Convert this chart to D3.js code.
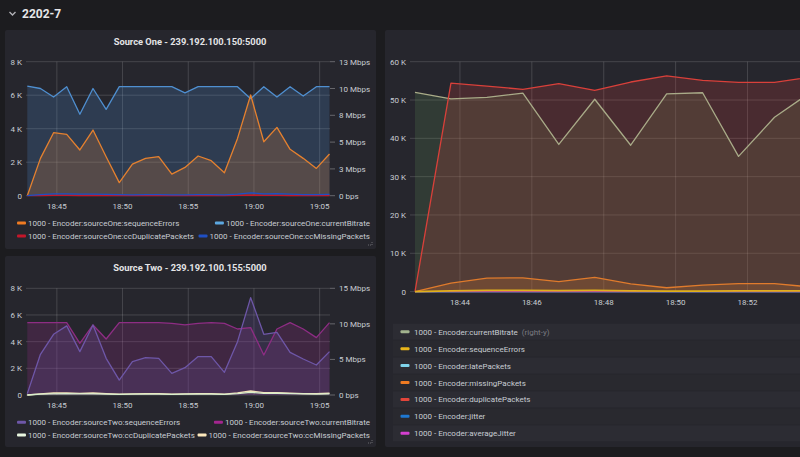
<!DOCTYPE html>
<html>
<head>
<meta charset="utf-8">
<script src="https://cdnjs.cloudflare.com/ajax/libs/d3/7.8.5/d3.min.js"></script>
<style>
  body { margin: 0; background: #1c1c1f; }
  svg { display: block; font-family: Roboto, "Noto Sans", sans-serif; }
</style>
</head>
<body>
<svg id="chart" width="800" height="457"></svg>
<script>
// one sample per minute, starting 18:42:45
const times = d3.range(24).map(i => new Date(2020, 0, 1, 18, 42 + i, 45));

// Source One
const s1SequenceErrors = [0, 2230, 3760, 3660, 2730, 3920, 2330, 780, 1890, 2230, 2330, 1290, 1690, 2370, 2090, 1370, 3420, 6010, 3220, 4080, 2770, 2230, 1630, 2490];
const s1CurrentBitrate = [10.23, 10.0, 9.2, 10.17, 7.6, 10.0, 8.05, 10.17, 10.17, 10.17, 10.17, 10.17, 9.6, 10.17, 10.17, 10.17, 10.17, 9.05, 10.17, 9.2, 10.17, 9.3, 10.17, 10.17]; // Mbps
const s1DuplicatePackets = [0, 10, 20, 20, 10, 20, 10, 10, 10, 10, 10, 10, 10, 10, 10, 10, 20, 30, 20, 20, 10, 10, 10, 10];
const s1MissingPackets = [0, 60, 110, 110, 90, 100, 80, 60, 50, 60, 60, 50, 50, 60, 60, 50, 100, 170, 110, 120, 90, 70, 60, 80];

// Source Two
const s2SequenceErrors = [100, 3050, 4550, 5180, 3250, 5250, 2750, 1120, 2500, 2800, 2750, 1620, 2050, 2880, 2880, 1700, 4000, 7300, 4550, 4700, 3200, 2700, 2250, 3250];
const s2CurrentBitrate = [10.17, 10.17, 10.17, 10.17, 7.27, 9.85, 7.87, 10.17, 10.17, 10.17, 10.17, 10.08, 9.85, 10.08, 10.17, 10.08, 9.28, 9.47, 5.63, 9.28, 10.17, 9.28, 8.06, 10.17]; // Mbps
const s2DuplicatePackets = [0, 60, 90, 100, 80, 90, 70, 40, 60, 70, 70, 50, 60, 70, 70, 50, 100, 200, 120, 130, 100, 80, 70, 90];
const s2MissingPackets = [0, 80, 150, 160, 120, 150, 110, 60, 90, 100, 100, 70, 80, 110, 100, 70, 160, 300, 180, 180, 140, 110, 100, 130];

// Encoder (right panel, first 12 samples are in view)
const encBitrate = [10.4, 10.06, 10.14, 10.36, 7.68, 10.04, 7.64, 10.32, 10.38, 7.06, 9.1, 10.4]; // Mbps, right-y
const encSequenceErrors = [0, 200, 300, 300, 250, 300, 200, 100, 150, 200, 200, 150];
const encLatePackets = [0, 0, 0, 0, 0, 0, 0, 0, 0, 0, 0, 0];
const encMissingPackets = [0, 2200, 3500, 3600, 2600, 3700, 2000, 1000, 1700, 2100, 2100, 1200];
const encDuplicatePackets = [0, 54400, 53600, 52800, 54300, 52500, 54700, 56300, 55100, 54600, 54600, 56000];
const encJitter = [0, 0, 0, 0, 0, 0, 0, 0, 0, 0, 0, 0];
const encAverageJitter = [0, 0, 0, 0, 0, 0, 0, 0, 0, 0, 0, 0];

const leftTicksSmall = [0, 2000, 4000, 6000, 8000];
const rightTicks1 = [0, 2.5, 5, 7.5, 10, 12.5];
const rightTicks2 = [0, 5, 10, 15];
const leftTicksBig = [0, 10000, 20000, 30000, 40000, 50000, 60000];

const svg = d3.select('#chart');
const textCol = '#c8cdd3';
const gridCol = 'rgba(255,255,255,0.15)';
const panelCol = '#26262d';

// header
svg.append('path').attr('d', 'M9.5,12 L12.5,15 L15.5,12')
  .attr('fill', 'none').attr('stroke', '#b0b0b5').attr('stroke-width', 1.4);
svg.append('text').attr('x', 22).attr('y', 17.5).attr('fill', '#e6e6e8')
  .attr('font-size', 12).attr('font-weight', 'bold').text('2202-7');

// panels
[[5, 30, 371, 219], [5, 256, 371, 191], [385, 30, 430, 417]].forEach(p => {
  svg.append('rect').attr('x', p[0]).attr('y', p[1]).attr('width', p[2]).attr('height', p[3])
    .attr('rx', 2).attr('fill', panelCol);
});

function leftFmt(v) { return v === 0 ? '0' : (v / 1000) + ' K'; }
function rightFmt(v) { return v === 0 ? '0 bps' : Math.round(v) + ' Mbps'; }

function drawGraph(cfg) {
  const g = svg.append('g');
  const x = d3.scaleTime().domain([times[0], times[23]]).range(cfg.xRange);
  const yL = d3.scaleLinear().domain([0, cfg.leftTicks[cfg.leftTicks.length - 1]]).range([cfg.bottom, cfg.top]);
  const yR = cfg.rightTicks ? d3.scaleLinear().domain([0, cfg.rightTicks[cfg.rightTicks.length - 1]]).range([cfg.bottom, cfg.top]) : null;

  // grid
  g.selectAll('line.hg').data(cfg.leftTicks).enter().append('line')
    .attr('x1', cfg.gridX[0]).attr('x2', cfg.gridX[1])
    .attr('y1', d => yL(d)).attr('y2', d => yL(d))
    .attr('stroke', gridCol);
  const xt = x.ticks(d3.timeMinute.every(cfg.every)).filter(t => x(t) < cfg.gridX[1]);
  g.selectAll('line.vg').data(xt).enter().append('line')
    .attr('x1', d => x(d)).attr('x2', d => x(d))
    .attr('y1', cfg.top).attr('y2', cfg.bottom)
    .attr('stroke', gridCol);

  // axes labels
  g.selectAll('text.yl').data(cfg.leftTicks).enter().append('text')
    .attr('x', cfg.leftLabelX).attr('y', d => yL(d) + 3)
    .attr('text-anchor', 'end').attr('font-size', 8).attr('fill', textCol)
    .text(leftFmt);
  if (yR) {
    g.selectAll('line.rt').data(cfg.rightTicks).enter().append('line')
      .attr('x1', cfg.gridX[1]).attr('x2', cfg.gridX[1] + 5)
      .attr('y1', d => yR(d)).attr('y2', d => yR(d))
      .attr('stroke', 'rgba(255,255,255,0.3)');
    g.selectAll('text.yr').data(cfg.rightTicks).enter().append('text')
      .attr('x', cfg.gridX[1] + 9).attr('y', d => yR(d) + 3)
      .attr('font-size', 8).attr('fill', textCol)
      .text(rightFmt);
  }
  g.selectAll('text.xl').data(xt).enter().append('text')
    .attr('x', d => x(d)).attr('y', cfg.bottom + 13)
    .attr('text-anchor', 'middle').attr('font-size', 8).attr('fill', textCol)
    .text(d3.timeFormat('%H:%M'));

  // fills then lines
  cfg.series.forEach(s => {
    const y = s.right ? yR : yL;
    const area = d3.area().x((d, i) => x(times[i])).y0(y(0)).y1(d => y(d));
    if (s.fill) {
      g.append('path').datum(s.values).attr('d', area)
        .attr('fill', s.fillColor || s.color).attr('fill-opacity', s.fill);
    }
  });
  cfg.series.forEach(s => {
    const y = s.right ? yR : yL;
    const line = d3.line().x((d, i) => x(times[i])).y(d => y(d));
    g.append('path').datum(s.values).attr('d', line)
      .attr('fill', 'none').attr('stroke', s.color).attr('stroke-width', s.width || 1.3)
      .attr('stroke-linejoin', 'round');
  });
  return g;
}

// Source One
svg.append('text').attr('x', 190).attr('y', 44.5).attr('text-anchor', 'middle')
  .attr('font-size', 9.3).attr('font-weight', 'bold').attr('fill', '#e4e4e6')
  .text('Source One - 239.192.100.150:5000');
drawGraph({
  xRange: [27.3, 329.5], top: 61.7, bottom: 195.7, gridX: [26, 330], every: 5, leftLabelX: 22,
  leftTicks: leftTicksSmall, rightTicks: rightTicks1,
  series: [
    { values: s1CurrentBitrate, color: '#4f8fd0', right: true, fill: 0.22 },
    { values: s1SequenceErrors, color: '#e5812f', fill: 0.22 },
    { values: s1DuplicatePackets, color: '#c4162a' },
    { values: s1MissingPackets, color: '#1f4fc4' }
  ]
});

// Source Two
svg.append('text').attr('x', 190).attr('y', 271).attr('text-anchor', 'middle')
  .attr('font-size', 9.3).attr('font-weight', 'bold').attr('fill', '#e4e4e6')
  .text('Source Two - 239.192.100.155:5000');
drawGraph({
  xRange: [27.3, 329.5], top: 288.3, bottom: 395, gridX: [26, 330], every: 5, leftLabelX: 22,
  leftTicks: leftTicksSmall, rightTicks: rightTicks2,
  series: [
    { values: s2CurrentBitrate, color: '#8e2d84', right: true, fill: 0.25 },
    { values: s2SequenceErrors, color: '#6e57a8', fill: 0.2 },
    { values: s2MissingPackets, color: '#f4e2b8' },
    { values: s2DuplicatePackets, color: '#d8efcc' }
  ]
});

// Encoder panel
const encG = drawGraph({
  xRange: [415, 415 + 23 * 35.95], top: 61.7, bottom: 291.6, gridX: [410, 810], every: 2, leftLabelX: 406,
  leftTicks: leftTicksBig, rightTicks: null,
  series: [
    { values: encBitrate.map(v => v * 5000), color: '#a9ab88', fill: 0.2, fillColor: '#5f8f55' },
    { values: encDuplicatePackets, color: '#d9403a', fill: 0.2 },
    { values: encMissingPackets, color: '#e07b2c', fill: 0.2 },
    { values: encLatePackets, color: '#6ed0e0' },
    { values: encJitter, color: '#1f78c1' },
    { values: encAverageJitter, color: '#ba43a6' },
    { values: encSequenceErrors, color: '#e0b01c', width: 1.8 }
  ]
});

// legends
function flowLegend(items, rows) {
  items.forEach((it, i) => {
    const row = Math.floor(i / 2), right = i % 2 === 1;
    const y = rows[row];
    const t = svg.append('text').attr('y', y + 3).attr('font-size', 8).attr('fill', textCol).text(it.name);
    let tx = 28;
    if (right) {
      tx = 370 - t.node().getComputedTextLength();
    }
    t.attr('x', tx);
    svg.append('rect').attr('x', tx - 11).attr('y', y - 1.5).attr('width', 9).attr('height', 3)
      .attr('rx', 1).attr('fill', it.color);
  });
}
flowLegend([
  { name: '1000 - Encoder:sourceOne:sequenceErrors', color: '#ef7b22' },
  { name: '1000 - Encoder:sourceOne:currentBitrate', color: '#5ca7e0' },
  { name: '1000 - Encoder:sourceOne:ccDuplicatePackets', color: '#c4162a' },
  { name: '1000 - Encoder:sourceOne:ccMissingPackets', color: '#1f4fc4' }
], [223, 236]);
flowLegend([
  { name: '1000 - Encoder:sourceTwo:sequenceErrors', color: '#6e57a8' },
  { name: '1000 - Encoder:sourceTwo:currentBitrate', color: '#a3268f' },
  { name: '1000 - Encoder:sourceTwo:ccDuplicatePackets', color: '#e8f6df' },
  { name: '1000 - Encoder:sourceTwo:ccMissingPackets', color: '#fce8bc' }
], [422.3, 435]);

const encLegend = [
  { name: '1000 - Encoder:currentBitrate', color: '#a2b38e', extra: '(right-y)' },
  { name: '1000 - Encoder:sequenceErrors', color: '#e8b51a' },
  { name: '1000 - Encoder:latePackets', color: '#7fd3ea' },
  { name: '1000 - Encoder:missingPackets', color: '#ef7b22' },
  { name: '1000 - Encoder:duplicatePackets', color: '#e2453a' },
  { name: '1000 - Encoder:jitter', color: '#1f78d1' },
  { name: '1000 - Encoder:averageJitter', color: '#d43fd0' }
];
const legRows = d3.scalePoint().domain(d3.range(encLegend.length)).range([331.7, 433.3]);
encLegend.forEach((it, i) => {
  const y = legRows(i);
  svg.append('rect').attr('x', 393).attr('y', y - 8).attr('width', 420).attr('height', 16)
    .attr('fill', i % 2 === 0 ? '#2c2c33' : '#29292f');
  svg.append('rect').attr('x', 400.5).attr('y', y - 1.5).attr('width', 9).attr('height', 3)
    .attr('rx', 1).attr('fill', it.color);
  const t = svg.append('text').attr('x', 414).attr('y', y + 3).attr('font-size', 8).attr('fill', textCol);
  t.append('tspan').text(it.name);
  if (it.extra) t.append('tspan').attr('dx', 4).attr('fill', '#7b7b82').text(it.extra);
});

// resize handles
[[372, 245], [372, 443]].forEach(p => {
  svg.append('path').attr('d', `M${p[0] - 4},${p[1]} L${p[0]},${p[1]} L${p[0]},${p[1] - 4}`)
    .attr('fill', 'none').attr('stroke', '#6a6a70').attr('stroke-width', 1).attr('stroke-dasharray', '1,1');
});
</script>
</body>
</html>
